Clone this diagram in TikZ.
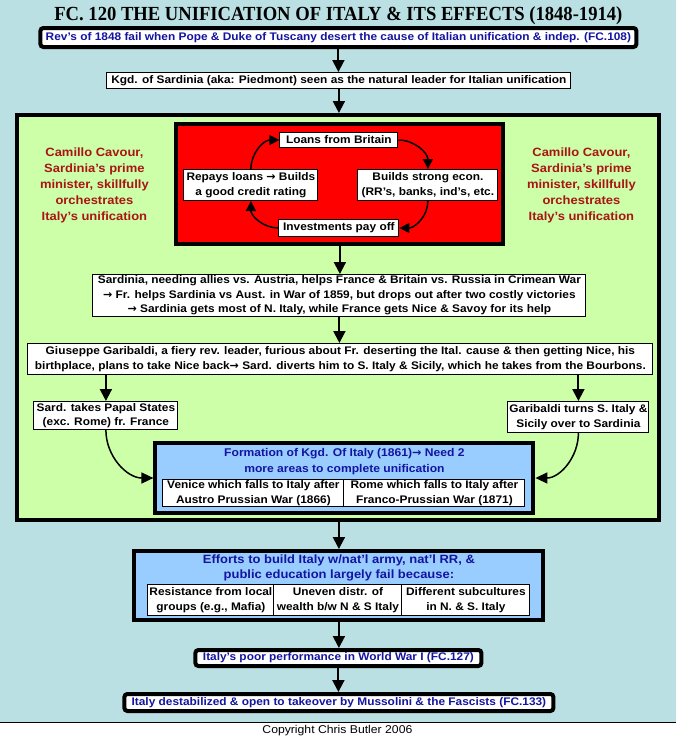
\documentclass[tikz,border=0pt]{standalone}
\usepackage{fontspec}
\setmainfont{Liberation Sans}[FakeStretch=1.08]
\newfontfamily\titlefont{Liberation Serif}
\newfontfamily\arrowfont{DejaVu Sans}
\newcommand\thenarrow{{\arrowfont\bfseries →}}
\usetikzlibrary{arrows.meta, positioning}
\definecolor{sea}{RGB}{186,224,227}
\definecolor{leaf}{RGB}{204,255,168}
\definecolor{sky}{RGB}{153,204,255}
\definecolor{navy}{RGB}{20,20,160}
\definecolor{brick}{RGB}{170,20,20}

\begin{document}
\begin{tikzpicture}[
    x=1pt, y=-1pt,
    every node/.style={font=\bfseries\fontsize{11}{14.5}\selectfont, inner sep=0pt, align=center},
    box/.style={rectangle, draw, fill=white, line width=1pt},
    bigbox/.style={rectangle, draw, line width=4pt},
    rbox/.style={bigbox, fill=white, rounded corners=3pt, text=navy, font=\bfseries\fontsize{11}{15}\selectfont},
    head/.style={text=navy, font=\bfseries\fontsize{12}{15.5}\selectfont},
    cavour/.style={text=brick, font=\bfseries\fontsize{12}{16}\selectfont},
    arrow/.style={-{Triangle[length=12pt,width=12pt]}, line width=2pt},
    cyclearrow/.style={-{Triangle[length=10pt,width=10pt]}, line width=1.5pt},
    curvearrow/.style={-{Triangle[length=12pt,width=11pt]}, line width=1.5pt}
]

% page
\fill[sea] (0,0) rectangle (676,722);
\fill[white] (0,722) rectangle (676,739);
\draw[line width=0.8pt] (0,722) -- (676,722);
\useasboundingbox (0,0) rectangle (676,739);

\node (title) at (338,16) {\titlefont\bfseries\fontsize{20}{20}\selectfont\scalebox{0.93}[1]{FC. 120 THE UNIFICATION OF ITALY \& ITS EFFECTS (1848-1914)}};

\node (rev) [rbox, minimum width=596pt, minimum height=19pt] at (338,37.5) {Rev’s of 1848 fail when Pope \& Duke of Tuscany desert the cause of Italian unification \& indep. (FC.108)};
\node (kgd) [box, minimum width=464pt, minimum height=16pt] at (338.5,80.5) {Kgd. of Sardinia (aka: Piedmont) seen as the natural leader for Italian unification};

% Cavour's stage
\node (stage) [bigbox, fill=leaf, minimum width=642pt, minimum height=405pt] at (338,317.5) {};
\node (credit) [bigbox, fill=red, minimum width=327pt, minimum height=120pt] at (339.5,184) {};
\node (loans) [box, minimum width=118pt, minimum height=15pt] at (338.5,140) {Loans from Britain};
\node (repays) [box, minimum width=134pt, minimum height=31pt] at (250.5,185) {Repays loans \thenarrow{} Builds\\a good credit rating};
\node (builds) [box, minimum width=140pt, minimum height=31pt] at (427.5,185) {Builds strong econ.\\(RR’s, banks, ind’s, etc.};
\node (invest) [box, minimum width=120pt, minimum height=17pt] at (338.5,228) {Investments pay off};
\node (cavourL) [cavour] at (94,185) {Camillo Cavour,\\Sardinia’s prime\\minister, skillfully\\orchestrates\\Italy’s unification};
\node (cavourR) [cavour] at (581,185) {Camillo Cavour,\\Sardinia’s prime\\minister, skillfully\\orchestrates\\Italy’s unification};

\node (sardinia) [box, minimum width=493pt, minimum height=42pt] at (339,295.5) {Sardinia, needing allies vs. Austria, helps France \& Britain vs. Russia in Crimean War\\\thenarrow{} Fr. helps Sardinia vs Aust. in War of 1859, but drops out after two costly victories\\\thenarrow{} Sardinia gets most of N. Italy, while France gets Nice \& Savoy for its help};
\node (garibaldi) [box, minimum width=625pt, minimum height=31pt] at (340,359) {Giuseppe Garibaldi, a fiery rev. leader, furious about Fr. deserting the Ital. cause \& then getting Nice, his\\birthplace, plans to take Nice back\thenarrow{} Sard. diverts him to S. Italy \& Sicily, which he takes from the Bourbons.};
\node (papal) [box, minimum width=144pt, minimum height=28pt] at (105.5,415.5) {Sard. takes Papal States\\(exc. Rome) fr. France};
\node (turns) [box, minimum width=141pt, minimum height=31pt] at (578,417) {Garibaldi turns S. Italy \&\\Sicily over to Sardinia};

\node (formation) [bigbox, fill=sky, minimum width=378pt, minimum height=70pt] at (344,478) {};
\node (formhead) [head, font=\bfseries\fontsize{11.2}{15.5}\selectfont] at (344,461.5) {Formation of Kgd. Of Italy (1861)\thenarrow{} Need 2\\more areas to complete unification};
\node (venice) [box, minimum width=181pt, minimum height=27pt] at (253,493) {Venice which falls to Italy after\\Austro Prussian War (1866)};
\node (rome) [box, minimum width=181pt, minimum height=27pt, right=-1pt of venice] {Rome which falls to Italy after\\Franco-Prussian War (1871)};

% aftermath
\node (efforts) [bigbox, fill=sky, minimum width=409pt, minimum height=69pt] at (338.5,585.5) {};
\node (effhead) [head] at (338.5,568) {Efforts to build Italy w/nat’l army, nat’l RR, \&\\public education largely fail because:};
\node (resist) [box, minimum width=126pt, minimum height=31pt] at (210.5,600) {Resistance from local\\groups (e.g., Mafia)};
\node (uneven) [box, minimum width=128pt, minimum height=31pt, right=-1pt of resist] {Uneven distr. of\\wealth b/w N \& S Italy};
\node (subcult) [box, minimum width=128pt, minimum height=31pt, right=-1pt of uneven] {Different subcultures\\in N. \& S. Italy};
\node (poor) [rbox, minimum width=286pt, minimum height=16pt] at (338,658) {Italy’s poor performance in World War I (FC.127)};
\node (destab) [rbox, minimum width=429pt, minimum height=17pt] at (338.5,702.5) {Italy destabilized \& open to takeover by Mussolini \& the Fascists (FC.133)};

\node (copyright) [font=\fontsize{11.3}{11.3}\selectfont] at (337,731) {Copyright Chris Butler 2006};

\draw [arrow] (rev.south) -- (rev.south |- kgd.north);
\draw [arrow] (kgd.south) -- (kgd.south |- stage.north);
\draw [cyclearrow] (repays.north) to[out=90, in=180] (loans.west);
\draw [cyclearrow] (loans.east) to[out=0, in=90] (builds.north);
\draw [cyclearrow] (builds.south) to[out=-90, in=0] (invest.east);
\draw [cyclearrow] (invest.west) to[out=180, in=-90] (repays.south);
\draw [arrow] (credit.south) -- (credit.south |- sardinia.north);
\draw [arrow] (sardinia.south) -- (sardinia.south |- garibaldi.north);
\draw [arrow] (garibaldi.south -| papal.north) -- (papal.north);
\draw [arrow] (garibaldi.south -| turns.north) -- (turns.north);
\draw [curvearrow] (papal.south) to[out=-90, in=180] (formation.west);
\draw [curvearrow] (turns.south) to[out=-90, in=0] (formation.east);
\draw [arrow] (stage.south -| efforts.north) -- (efforts.north);
\draw [arrow] (efforts.south) -- (efforts.south |- poor.north);
\draw [arrow] (poor.south) -- (poor.south |- destab.north);

\end{tikzpicture}
\end{document}
